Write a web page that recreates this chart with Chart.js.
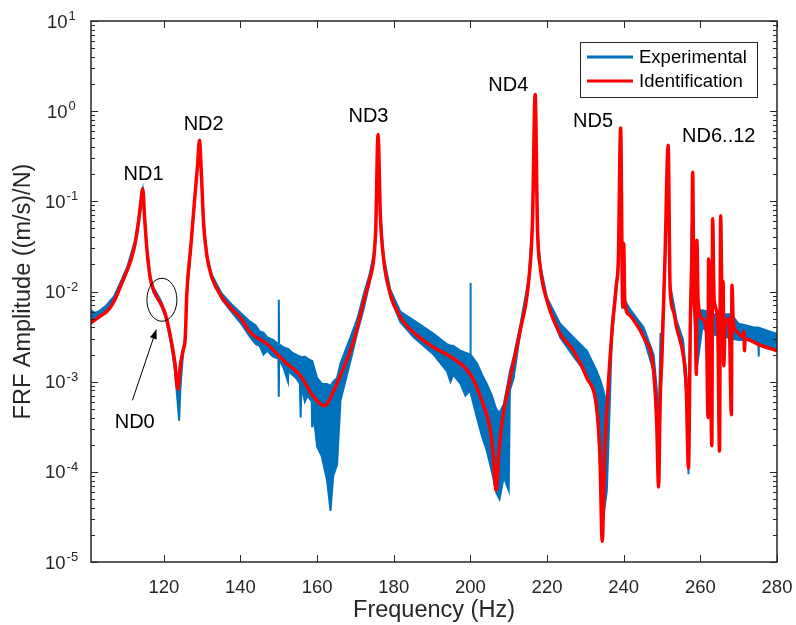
<!DOCTYPE html>
<html>
<head>
<meta charset="utf-8">
<script src="https://cdn.jsdelivr.net/npm/chart.js@4.4.1/dist/chart.umd.min.js"></script>
<style>
  html, body { margin: 0; padding: 0; background: #fff; }
  #wrap { width: 796px; height: 625px; position: relative; }
</style>
</head>
<body>
<div id="wrap"><canvas id="frf"></canvas></div>
<script>
// identification (fitted) FRF
const idFreq = [101.0, 103.0, 105.6, 107.5, 109.0, 110.5, 111.5, 112.5, 113.3, 113.9, 114.5, 115.0, 115.6, 116.5, 117.3, 118.2, 119.3, 120.4, 121.3, 122.1, 122.9, 123.65, 124.3, 125.0, 125.6, 126.0, 127.0, 128.0, 128.8, 129.3, 129.8, 130.4, 131.3, 132.5, 135.1, 137.7, 140.0, 142.6, 147.0, 151.3, 155.6, 159.1, 161.9, 164.3, 166.5, 168.7, 170.5, 172.2, 173.6, 174.8, 175.3, 175.9, 176.5, 177.4, 179.1, 181.7, 185.2, 190.4, 195.6, 200.0, 202.6, 205.2, 206.0, 206.7, 207.4, 208.2, 210.4, 213.0, 215.2, 216.2, 216.9, 217.5, 218.2, 220.0, 223.4, 226.9, 230.4, 233.0, 233.8, 234.4, 235.0, 235.6, 236.9, 238.1, 238.6, 239.2, 239.75, 240.0, 240.3, 241.5, 242.6, 245.2, 247.8, 248.6, 249.1, 249.5, 250.0, 250.8, 251.6, 252.1, 253.0, 253.8, 255.5, 256.3, 256.9, 257.4, 257.8, 258.0, 258.3, 258.7, 258.95, 259.1, 259.4, 260.5, 261.6, 262.0, 262.15, 262.5, 263.0, 263.2, 263.6, 264.5, 265.0, 265.3, 265.7, 265.95, 266.1, 266.5, 267.5, 268.1, 268.25, 268.6, 269.5, 271.2, 271.4, 271.5, 271.7, 275.0, 280.0];
const idAmp = [4.5e-3, 5.2e-3, 6.3e-3, 8.6e-3, 0.0123, 0.0175, 0.023, 0.034, 0.055, 0.09, 0.138, 0.065, 0.029, 0.0138, 0.0105, 8.7e-3, 7.2e-3, 5.6e-3, 3.9e-3, 2.6e-3, 1.6e-3, 8.3e-4, 1.5e-3, 2.2e-3, 3.1e-3, 9.4e-3, 0.03, 0.1, 0.25, 0.476, 0.2, 0.055, 0.024, 0.0145, 8.7e-3, 6.4e-3, 5.1e-3, 3.5e-3, 2.6e-3, 1.7e-3, 1.17e-3, 6.8e-4, 5.4e-4, 7.9e-4, 1.3e-3, 2.2e-3, 4.0e-3, 7.9e-3, 0.013, 0.024, 0.05, 0.55, 0.07, 0.022, 9.4e-3, 5.2e-3, 3.5e-3, 2.4e-3, 1.8e-3, 1.2e-3, 6.8e-4, 2.9e-4, 1.5e-4, 6.2e-5, 1.6e-4, 3.4e-4, 1.1e-3, 3.7e-3, 0.013, 0.06, 1.53, 0.05, 0.019, 7.9e-3, 3.4e-3, 2.2e-3, 1.1e-3, 4.8e-4, 1.5e-4, 1.7e-5, 1.4e-4, 4.8e-4, 3.4e-3, 0.012, 0.022, 0.65, 6.7e-3, 0.034, 7.5e-3, 5.5e-3, 4.8e-3, 3.1e-3, 1.3e-3, 3.6e-4, 6.8e-5, 6.0e-4, 2.0e-3, 0.026, 0.42, 0.011, 6.0e-3, 4.0e-3, 2.0e-3, 9.0e-4, 1.1e-4, 4.8e-3, 0.03, 0.21, 0.01, 5.0e-3, 1.2e-3, 0.037, 8.0e-3, 5.0e-3, 3.5e-3, 4.0e-4, 0.023, 6.0e-3, 1.95e-4, 0.064, 8.0e-3, 5.0e-3, 1.7e-4, 0.069, 6.0e-3, 0.013, 1.5e-3, 4.4e-3, 5.0e-3, 4.3e-4, 0.0117, 4.5e-3, 3.6e-3, 3.1e-3, 3.6e-3, 2.2e-3, 3.0e-3, 2.6e-3, 2.2e-3];

// experimental FRF: the noisy band, as upper and lower edges
const expFreq = [
  101.0, 102.0, 103.0, 105.0, 107.0, 109.0, 110.5, 112.5, 113.9, 114.5, 115.0, 115.6, 116.5, 117.3, 118.2, 119.3, 120.4, 121.3, 122.1, 122.9, 123.6, 124.0, 124.3, 125.0, 125.6, 126.0, 127.0, 128.0, 128.8, 129.3, 129.8, 130.4, 131.3, 132.5, 135.1, 137.7, 140.0, 142.6,
  144.0, 145.0, 146.0, 147.0, 148.5, 149.9, 150.0, 150.1, 151.3, 152.4, 152.5, 153.5, 154.5, 155.5, 155.7, 155.9, 156.8, 157.5, 158.6, 158.7, 158.8, 160.0,
  161.2, 162.6, 163.5, 164.2, 165.2, 166.1, 168.7, 170.5, 172.2, 173.6, 174.8, 175.3, 175.9, 176.5, 177.4, 179.1, 181.7, 185.2, 190.4, 193.9,
  194.8, 195.5, 197.4, 198.7, 199.9, 200.0, 200.1, 201.7, 203.0, 204.3, 205.6, 206.7, 207.6, 208.7, 210.0, 210.3,
  211.3, 213.0, 215.2, 216.2, 216.9, 217.5, 218.2, 220.0, 223.4, 226.9, 230.4, 233.0, 234.0, 234.7, 235.6, 236.4, 236.9, 238.1, 238.6, 239.2, 239.75, 240.0, 240.3, 241.5, 242.6, 245.2, 247.8, 248.6, 249.1, 249.6, 250.0, 250.8, 251.6, 252.1, 253.8, 255.5, 256.6, 256.9, 257.4, 258.0, 258.4, 259.0, 260.5, 262.0, 264.0, 266.0, 268.0, 270.0, 272.0, 274.0, 275.1, 275.2, 275.3, 278.0, 280.0
];
const expHigh = [
  6.2e-3, 5.8e-3, 6.0e-3, 7.0e-3, 8.8e-3, 0.0135, 0.019, 0.037, 0.09, 0.13, 0.065, 0.03, 0.0145, 0.011, 9.5e-3, 7.8e-3, 5.8e-3, 4.0e-3, 2.7e-3, 1.7e-3, 9.0e-4, 8.0e-4, 1.5e-3, 2.3e-3, 3.2e-3, 9.5e-3, 0.03, 0.1, 0.25, 0.46, 0.2, 0.06, 0.025, 0.0155, 9.5e-3, 7.2e-3, 5.8e-3, 4.6e-3,
  4.2e-3, 3.6e-3, 3.5e-3, 3.1e-3, 2.9e-3, 2.6e-3, 8.1e-3, 2.6e-3, 2.4e-3, 2.3e-3, 2.3e-3, 2.1e-3, 2.0e-3, 1.9e-3, 1.9e-3, 1.85e-3, 1.9e-3, 1.8e-3, 1.7e-3, 1.7e-3, 1.65e-3, 1.1e-3,
  9.5e-4, 9.4e-4, 9.0e-4, 1.0e-3, 1.1e-3, 1.6e-3, 3.1e-3, 5.0e-3, 9.5e-3, 0.015, 0.026, 0.05, 0.57, 0.07, 0.024, 0.0105, 6.0e-3, 4.8e-3, 3.4e-3, 2.6e-3,
  2.5e-3, 2.5e-3, 2.2e-3, 2.1e-3, 2.0e-3, 0.0124, 2.0e-3, 1.6e-3, 1.2e-3, 9.4e-4, 7.0e-4, 5.0e-4, 4.5e-4, 5.6e-4, 1.1e-3, 1.3e-3,
  1.9e-3, 4.2e-3, 0.014, 0.06, 1.5, 0.05, 0.02, 8.5e-3, 4.4e-3, 3.1e-3, 2.2e-3, 1.3e-3, 1.0e-3, 8.0e-4, 5.6e-4, 1.7e-3, 4.4e-3, 0.013, 0.022, 0.62, 7.0e-3, 0.033, 8.0e-3, 6.5e-3, 5.6e-3, 4.0e-3, 2.0e-3, 8.6e-4, 3.0e-4, 3.4e-3, 3.4e-3, 0.026, 0.4, 0.012, 4.8e-3, 2.9e-3, 8.6e-4, 3.0e-4, 5.0e-3, 0.2, 0.01, 6.0e-3, 6.2e-3, 6.0e-3, 5.5e-3, 5.6e-3, 5.6e-3, 4.4e-3, 4.2e-3, 4.0e-3, 4.0e-3, 4.0e-3, 4.0e-3, 3.6e-3, 3.4e-3
];
const expLow = [
  4.4e-3, 4.8e-3, 5.1e-3, 5.9e-3, 7.6e-3, 0.0118, 0.017, 0.033, 0.08, 0.12, 0.06, 0.028, 0.013, 9.8e-3, 8.4e-3, 7.0e-3, 5.2e-3, 3.5e-3, 2.3e-3, 1.3e-3, 6.0e-4, 3.7e-4, 8.0e-4, 2.0e-3, 2.9e-3, 9.0e-3, 0.028, 0.095, 0.24, 0.45, 0.19, 0.055, 0.023, 0.014, 8.2e-3, 5.9e-3, 4.5e-3, 3.1e-3,
  2.6e-3, 2.5e-3, 2.0e-3, 2.2e-3, 1.9e-3, 1.8e-3, 6.8e-4, 1.8e-3, 1.4e-3, 1.0e-3, 1.3e-3, 1.2e-3, 1.1e-3, 9.5e-4, 4.0e-4, 9.0e-4, 6.0e-4, 7.0e-4, 6.0e-4, 3.2e-4, 5.5e-4, 1.9e-4,
  1.5e-4, 8.0e-5, 3.7e-5, 9.0e-5, 1.2e-4, 6.2e-4, 1.7e-3, 3.5e-3, 6.5e-3, 0.012, 0.022, 0.045, 0.5, 0.065, 0.021, 8.5e-3, 4.6e-3, 3.1e-3, 2.0e-3, 1.3e-3,
  1.0e-3, 1.2e-3, 9.5e-4, 7.0e-4, 8.0e-4, 8.0e-4, 8.0e-4, 4.0e-4, 2.5e-4, 1.7e-4, 1.0e-4, 6.0e-5, 5.0e-5, 8.8e-5, 6.2e-5, 8.0e-4,
  1.1e-3, 3.5e-3, 0.012, 0.055, 1.4, 0.045, 0.018, 7.5e-3, 3.1e-3, 1.9e-3, 1.2e-3, 6.2e-4, 7.3e-5, 3.2e-5, 6.2e-5, 6.2e-4, 3.0e-3, 0.011, 0.02, 0.6, 6.5e-3, 0.03, 7.0e-3, 5.5e-3, 4.8e-3, 3.1e-3, 1.3e-3, 3.6e-4, 8.0e-5, 6.0e-4, 2.0e-3, 0.024, 0.38, 0.011, 4.0e-3, 2.0e-3, 5.0e-4, 9.4e-5, 4.0e-3, 0.18, 6.0e-3, 1.3e-3, 4.0e-3, 3.5e-3, 3.3e-3, 3.2e-3, 3.0e-3, 2.9e-3, 2.9e-3, 2.8e-3, 2.8e-3, 1.9e-3, 2.8e-3, 2.4e-3, 2.2e-3
];

// axis ticks
const xTicks = [120, 140, 160, 180, 200, 220, 240, 260, 280];
const yExponents = [-5, -4, -3, -2, -1, 0, 1];

// mode labels (text, frequency, amplitude of label centre)
const ndText = ["ND0", "ND1", "ND2", "ND3", "ND4", "ND5", "ND6..12"];
const ndFreq = [112.4, 114.7, 130.4, 173.4, 209.9, 232.0, 264.8];
const ndAmp = [3.5e-4, 0.197, 0.708, 0.869, 1.945, 0.774, 0.527];

const BLUE = "#0072bd";
const RED = "#ff0000";
const AXIS = "#262626";
const FONT = "'Liberation Sans', Arial, Helvetica, sans-serif";

const toPoints = (xs, ys) => xs.map((x, i) => ({ x, y: ys[i] }));

const supLabel = (ctx, left, yPix, exp) => {
  ctx.font = `18.5px ${FONT}`;
  ctx.textAlign = "left";
  ctx.textBaseline = "alphabetic";
  ctx.fillText("10", left, yPix + 6.5);
  const w = ctx.measureText("10").width;
  ctx.font = `13px ${FONT}`;
  ctx.fillText(String(exp), left + w + 1, yPix - 1);
};

const frfDecor = {
  id: "frfDecor",
  afterDatasetsDraw(chart) {
    const { ctx, chartArea: a, scales } = chart;
    const xs = scales.x;
    const ys = scales.y;
    ctx.save();

    // ellipse around ND0 and arrow
    ctx.strokeStyle = "#000";
    ctx.fillStyle = "#000";
    ctx.lineWidth = 1;
    const ex = xs.getPixelForValue(119.5);
    const ey = ys.getPixelForValue(8.1e-3);
    ctx.beginPath();
    ctx.ellipse(ex, ey, 15, 21.5, 0, 0, Math.PI * 2);
    ctx.stroke();

    const tx = xs.getPixelForValue(111.8), ty = ys.getPixelForValue(6.2e-4);
    const hx = xs.getPixelForValue(118.1), hy = ys.getPixelForValue(3.85e-3);
    const ang = Math.atan2(hy - ty, hx - tx);
    ctx.beginPath();
    ctx.moveTo(tx, ty);
    ctx.lineTo(hx - 8 * Math.cos(ang), hy - 8 * Math.sin(ang));
    ctx.stroke();
    ctx.beginPath();
    ctx.moveTo(hx, hy);
    ctx.lineTo(hx - 10 * Math.cos(ang) + 3.5 * Math.sin(ang), hy - 10 * Math.sin(ang) - 3.5 * Math.cos(ang));
    ctx.lineTo(hx - 10 * Math.cos(ang) - 3.5 * Math.sin(ang), hy - 10 * Math.sin(ang) + 3.5 * Math.cos(ang));
    ctx.closePath();
    ctx.fill();

    // ND labels
    ctx.font = `20px ${FONT}`;
    ctx.textAlign = "center";
    ctx.textBaseline = "middle";
    ndText.forEach((t, i) => {
      ctx.fillText(t, xs.getPixelForValue(ndFreq[i]), ys.getPixelForValue(ndAmp[i]));
    });

    // box + ticks (inward, MATLAB style)
    ctx.strokeStyle = AXIS;
    ctx.lineWidth = 1;
    ctx.beginPath();
    xTicks.forEach((v) => {
      const px = Math.round(xs.getPixelForValue(v)) + 0.5;
      ctx.moveTo(px, a.top); ctx.lineTo(px, a.top + 7);
      ctx.moveTo(px, a.bottom); ctx.lineTo(px, a.bottom - 7);
    });
    yExponents.forEach((e) => {
      const py = Math.round(ys.getPixelForValue(Math.pow(10, e))) + 0.5;
      ctx.moveTo(a.left, py); ctx.lineTo(a.left + 7, py);
      ctx.moveTo(a.right, py); ctx.lineTo(a.right - 7, py);
      if (e < 1) {
        for (let m = 2; m <= 9; m++) {
          const pm = Math.round(ys.getPixelForValue(m * Math.pow(10, e))) + 0.5;
          ctx.moveTo(a.left, pm); ctx.lineTo(a.left + 4, pm);
          ctx.moveTo(a.right, pm); ctx.lineTo(a.right - 4, pm);
        }
      }
    });
    ctx.stroke();
    ctx.lineWidth = 1.5;
    ctx.strokeRect(a.left, a.top, a.right - a.left, a.bottom - a.top);

    // tick labels
    ctx.fillStyle = AXIS;
    ctx.font = `18.5px ${FONT}`;
    ctx.textAlign = "center";
    ctx.textBaseline = "alphabetic";
    xTicks.forEach((v) => {
      ctx.fillText(String(v), xs.getPixelForValue(v), a.bottom + 31);
    });
    yExponents.forEach((e) => {
      supLabel(ctx, e < 0 ? 45 : 47, ys.getPixelForValue(Math.pow(10, e)), e);
    });

    // axis titles
    ctx.font = `23.5px ${FONT}`;
    ctx.textAlign = "center";
    ctx.fillText("Frequency (Hz)", (a.left + a.right) / 2, 617);
    ctx.save();
    ctx.translate(30, (a.top + a.bottom) / 2);
    ctx.rotate(-Math.PI / 2);
    ctx.fillText("FRF Amplitude ((m/s)/N)", 0, 0);
    ctx.restore();

    // legend
    const lw = 177, lh = 55;
    const lx = a.right - 20 - lw, ly = a.top + 21;
    ctx.fillStyle = "#fff";
    ctx.fillRect(lx, ly, lw, lh);
    ctx.strokeStyle = AXIS;
    ctx.lineWidth = 1;
    ctx.strokeRect(lx + 0.5, ly + 0.5, lw, lh);
    const items = chart.data.datasets.filter((d) => d.label);
    items.sort((p, q) => p.legendRank - q.legendRank);
    items.forEach((d, i) => {
      const yy = ly + 15 + i * 24;
      ctx.strokeStyle = d.borderColor;
      ctx.lineWidth = 3;
      ctx.beginPath();
      ctx.moveTo(lx + 7, yy); ctx.lineTo(lx + 53, yy);
      ctx.stroke();
      ctx.fillStyle = "#000";
      ctx.font = `18.5px ${FONT}`;
      ctx.textAlign = "left";
      ctx.textBaseline = "middle";
      ctx.fillText(d.label, lx + 59, yy + 1);
    });

    ctx.restore();
  }
};

new Chart(document.getElementById("frf"), {
  type: "line",
  data: {
    datasets: [
      {
        label: "Identification",
        legendRank: 1,
        data: toPoints(idFreq, idAmp),
        borderColor: RED,
        borderWidth: 3.5,
        pointRadius: 0,
        cubicInterpolationMode: "monotone",
        fill: false,
        order: 1
      },
      {
        label: "Experimental",
        legendRank: 0,
        data: toPoints(expFreq, expHigh),
        borderColor: BLUE,
        backgroundColor: BLUE,
        borderWidth: 2,
        pointRadius: 0,
        tension: 0,
        fill: "+1",
        order: 2
      },
      {
        label: "",
        data: toPoints(expFreq, expLow),
        borderColor: BLUE,
        borderWidth: 2,
        pointRadius: 0,
        tension: 0,
        fill: false,
        order: 3
      }
    ]
  },
  options: {
    responsive: true,
    maintainAspectRatio: false,
    animation: false,
    events: [],
    layout: { padding: { top: 21, right: 19, bottom: 0, left: 0 } },
    plugins: { legend: { display: false }, tooltip: { enabled: false } },
    scales: {
      x: {
        type: "linear",
        min: 101,
        max: 280,
        grid: { display: false },
        border: { display: false },
        ticks: { display: false },
        afterFit: (s) => { s.height = 63; }
      },
      y: {
        type: "logarithmic",
        min: 1e-5,
        max: 10,
        grid: { display: false },
        border: { display: false },
        ticks: { display: false },
        afterFit: (s) => { s.width = 91; }
      }
    }
  },
  plugins: [frfDecor]
});
</script>
</body>
</html>
